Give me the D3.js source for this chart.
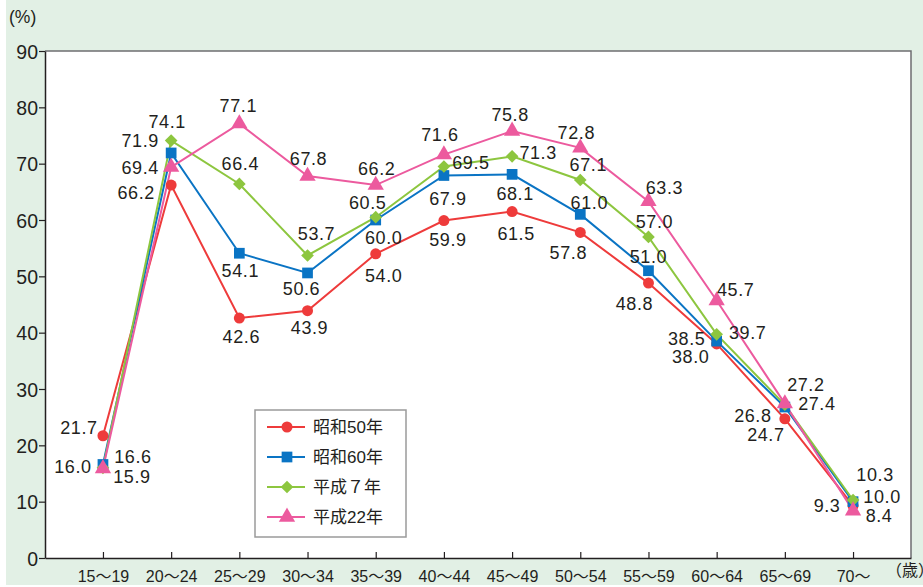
<!DOCTYPE html>
<html>
<head>
<meta charset="utf-8">
<script src="https://cdn.jsdelivr.net/npm/d3@7"></script>
<style>
  html, body { margin: 0; padding: 0; background: #fff; }
  svg { display: block; }
  text { font-family: "Liberation Sans", Arial, "Noto Sans CJK JP", sans-serif; fill: #231f20; }
</style>
</head>
<body>
<svg id="chart"></svg>
<script>
// age groups and labour force participation (%)
const categories = ['15～19', '20～24', '25～29', '30～34', '35～39', '40～44',
  '45～49', '50～54', '55～59', '60～64', '65～69', '70～'];
const showa50 = [21.7, 66.2, 42.6, 43.9, 54.0, 59.9, 61.5, 57.8, 48.8, 38.0, 24.7, 9.3];
const showa60 = [16.6, 71.9, 54.1, 50.6, 60.0, 67.9, 68.1, 61.0, 51.0, 38.5, 26.8, 10.0];
const heisei7 = [16.0, 74.1, 66.4, 53.7, 60.5, 69.5, 71.3, 67.1, 57.0, 39.7, 27.2, 10.3];
const heisei22 = [15.9, 69.4, 77.1, 67.8, 66.2, 71.6, 75.8, 72.8, 63.3, 45.7, 27.4, 8.4];
const seriesNames = ['昭和50年', '昭和60年', '平成７年', '平成22年'];
const yTicks = [0, 10, 20, 30, 40, 50, 60, 70, 80, 90];

// where each value label sits relative to its marker (dx, dy)
const labelPos = [
  [[-24,-8],[-35,7],[2,18],[2,17],[8,22],[4,19],[4,22],[-12,20],[-14,20],[-26,13],[-19,16],[-26,0]],
  [[30,-8],[-31,-12],[1,17],[-6,16],[8,18],[4,23],[3,19],[9,-12],[0,-14],[-30,-3],[-32,8],[29,-5]],
  [[-30,-1],[-4,-19],[1,-20],[9,-22],[-8,-15],[27,-4],[26,-4],[8,-15],[6,-15],[31,-2],[21,-20],[22,-25]],
  [[29,8],[-31,0],[-1,-18],[1,-18],[1,-17],[-4,-20],[-2,-16],[-4,-15],[16,-14],[19,-11],[32,0],[26,5]]
];

const colors = ['#ee3b3b', '#0a74c4', '#8dc63f', '#ec5a9e'];
const symbols = [d3.symbolCircle, d3.symbolSquare, d3.symbolSquare, d3.symbolTriangle];
const symSizes = [95, 115, 80, 115];
const symRotate = [0, 0, 45, 0];

const width = 923, height = 587;
const margin = {top: 51, right: 12, bottom: 29, left: 45};

const svg = d3.select('#chart').attr('width', width).attr('height', height);

// green panel
svg.append('rect').attr('x', 6).attr('y', 0).attr('width', width - 6).attr('height', 585)
  .attr('fill', '#e2f0e5');

const x = d3.scalePoint().domain(categories)
  .range([margin.left, width - margin.right]).padding(0.85);
const y = d3.scaleLinear().domain([0, 90])
  .range([height - margin.bottom, margin.top]);

const x0 = margin.left, x1 = width - margin.right;
const y0 = height - margin.bottom, y1 = margin.top;

svg.append('rect').attr('x', x0).attr('y', y1).attr('width', x1 - x0).attr('height', y0 - y1)
  .attr('fill', '#fff');
svg.append('path').attr('d', `M${x0},${y1}H${x1}V${y0}`)
  .attr('fill', 'none').attr('stroke', '#6d6e70').attr('stroke-width', 1.5);

// axes
const yAxis = svg.append('g').attr('transform', `translate(${x0},0)`)
  .call(d3.axisLeft(y).tickValues(yTicks).tickSize(6).tickSizeOuter(0).tickPadding(1));
yAxis.selectAll('text').style('font-size', '19.5px').attr('dy', '0.36em');

const xAxis = svg.append('g').attr('transform', `translate(0,${y0})`)
  .call(d3.axisBottom(x).tickSize(-6).tickSizeOuter(0).tickPadding(13));
xAxis.selectAll('text').style('font-size', '16px');

svg.selectAll('.domain').attr('stroke', '#231f20').attr('stroke-width', 1.5);
svg.selectAll('.tick line').attr('stroke', '#231f20').attr('stroke-width', 1.2);

svg.append('text').attr('x', 9).attr('y', 23).style('font-size', '17.5px').text('(%)');
svg.append('text').attr('x', 886).attr('y', 576).style('font-size', '16px').text('（歳）');

const series = [showa50, showa60, heisei7, heisei22];

const line = d3.line().x((d, i) => x(categories[i])).y(d => y(d));

series.forEach((vals, s) => {
  svg.append('path').datum(vals).attr('d', line)
    .attr('fill', 'none').attr('stroke', colors[s]).attr('stroke-width', 2);
});

series.forEach((vals, s) => {
  svg.append('g').selectAll('path').data(vals).enter().append('path')
    .attr('d', d3.symbol().type(symbols[s]).size(symSizes[s]))
    .attr('transform', (d, i) => `translate(${x(categories[i])},${y(d)}) rotate(${symRotate[s]})`)
    .attr('fill', colors[s]);
});

series.forEach((vals, s) => {
  svg.append('g').selectAll('text').data(vals).enter().append('text')
    .attr('x', (d, i) => x(categories[i]) + labelPos[s][i][0])
    .attr('y', (d, i) => y(d) + labelPos[s][i][1])
    .attr('dy', '0.36em')
    .attr('text-anchor', 'middle')
    .style('font-size', '18px')
    .style('letter-spacing', '0.6px')
    .text(d => d.toFixed(1));
});

// legend
const legend = svg.append('g').attr('transform', 'translate(255,410)');
legend.append('rect').attr('width', 151).attr('height', 127)
  .attr('fill', '#fff').attr('stroke', '#9a9a9a').attr('stroke-width', 1.5);
seriesNames.forEach((name, s) => {
  const row = legend.append('g').attr('transform', `translate(0,${17 + s * 30})`);
  row.append('line').attr('x1', 12).attr('x2', 50)
    .attr('stroke', colors[s]).attr('stroke-width', 2);
  row.append('path').attr('d', d3.symbol().type(symbols[s]).size(symSizes[s]))
    .attr('transform', `translate(32,0) rotate(${symRotate[s]})`).attr('fill', colors[s]);
  row.append('text').attr('x', 58).attr('dy', '0.36em')
    .style('font-size', '17px').text(name);
});
</script>
</body>
</html>
